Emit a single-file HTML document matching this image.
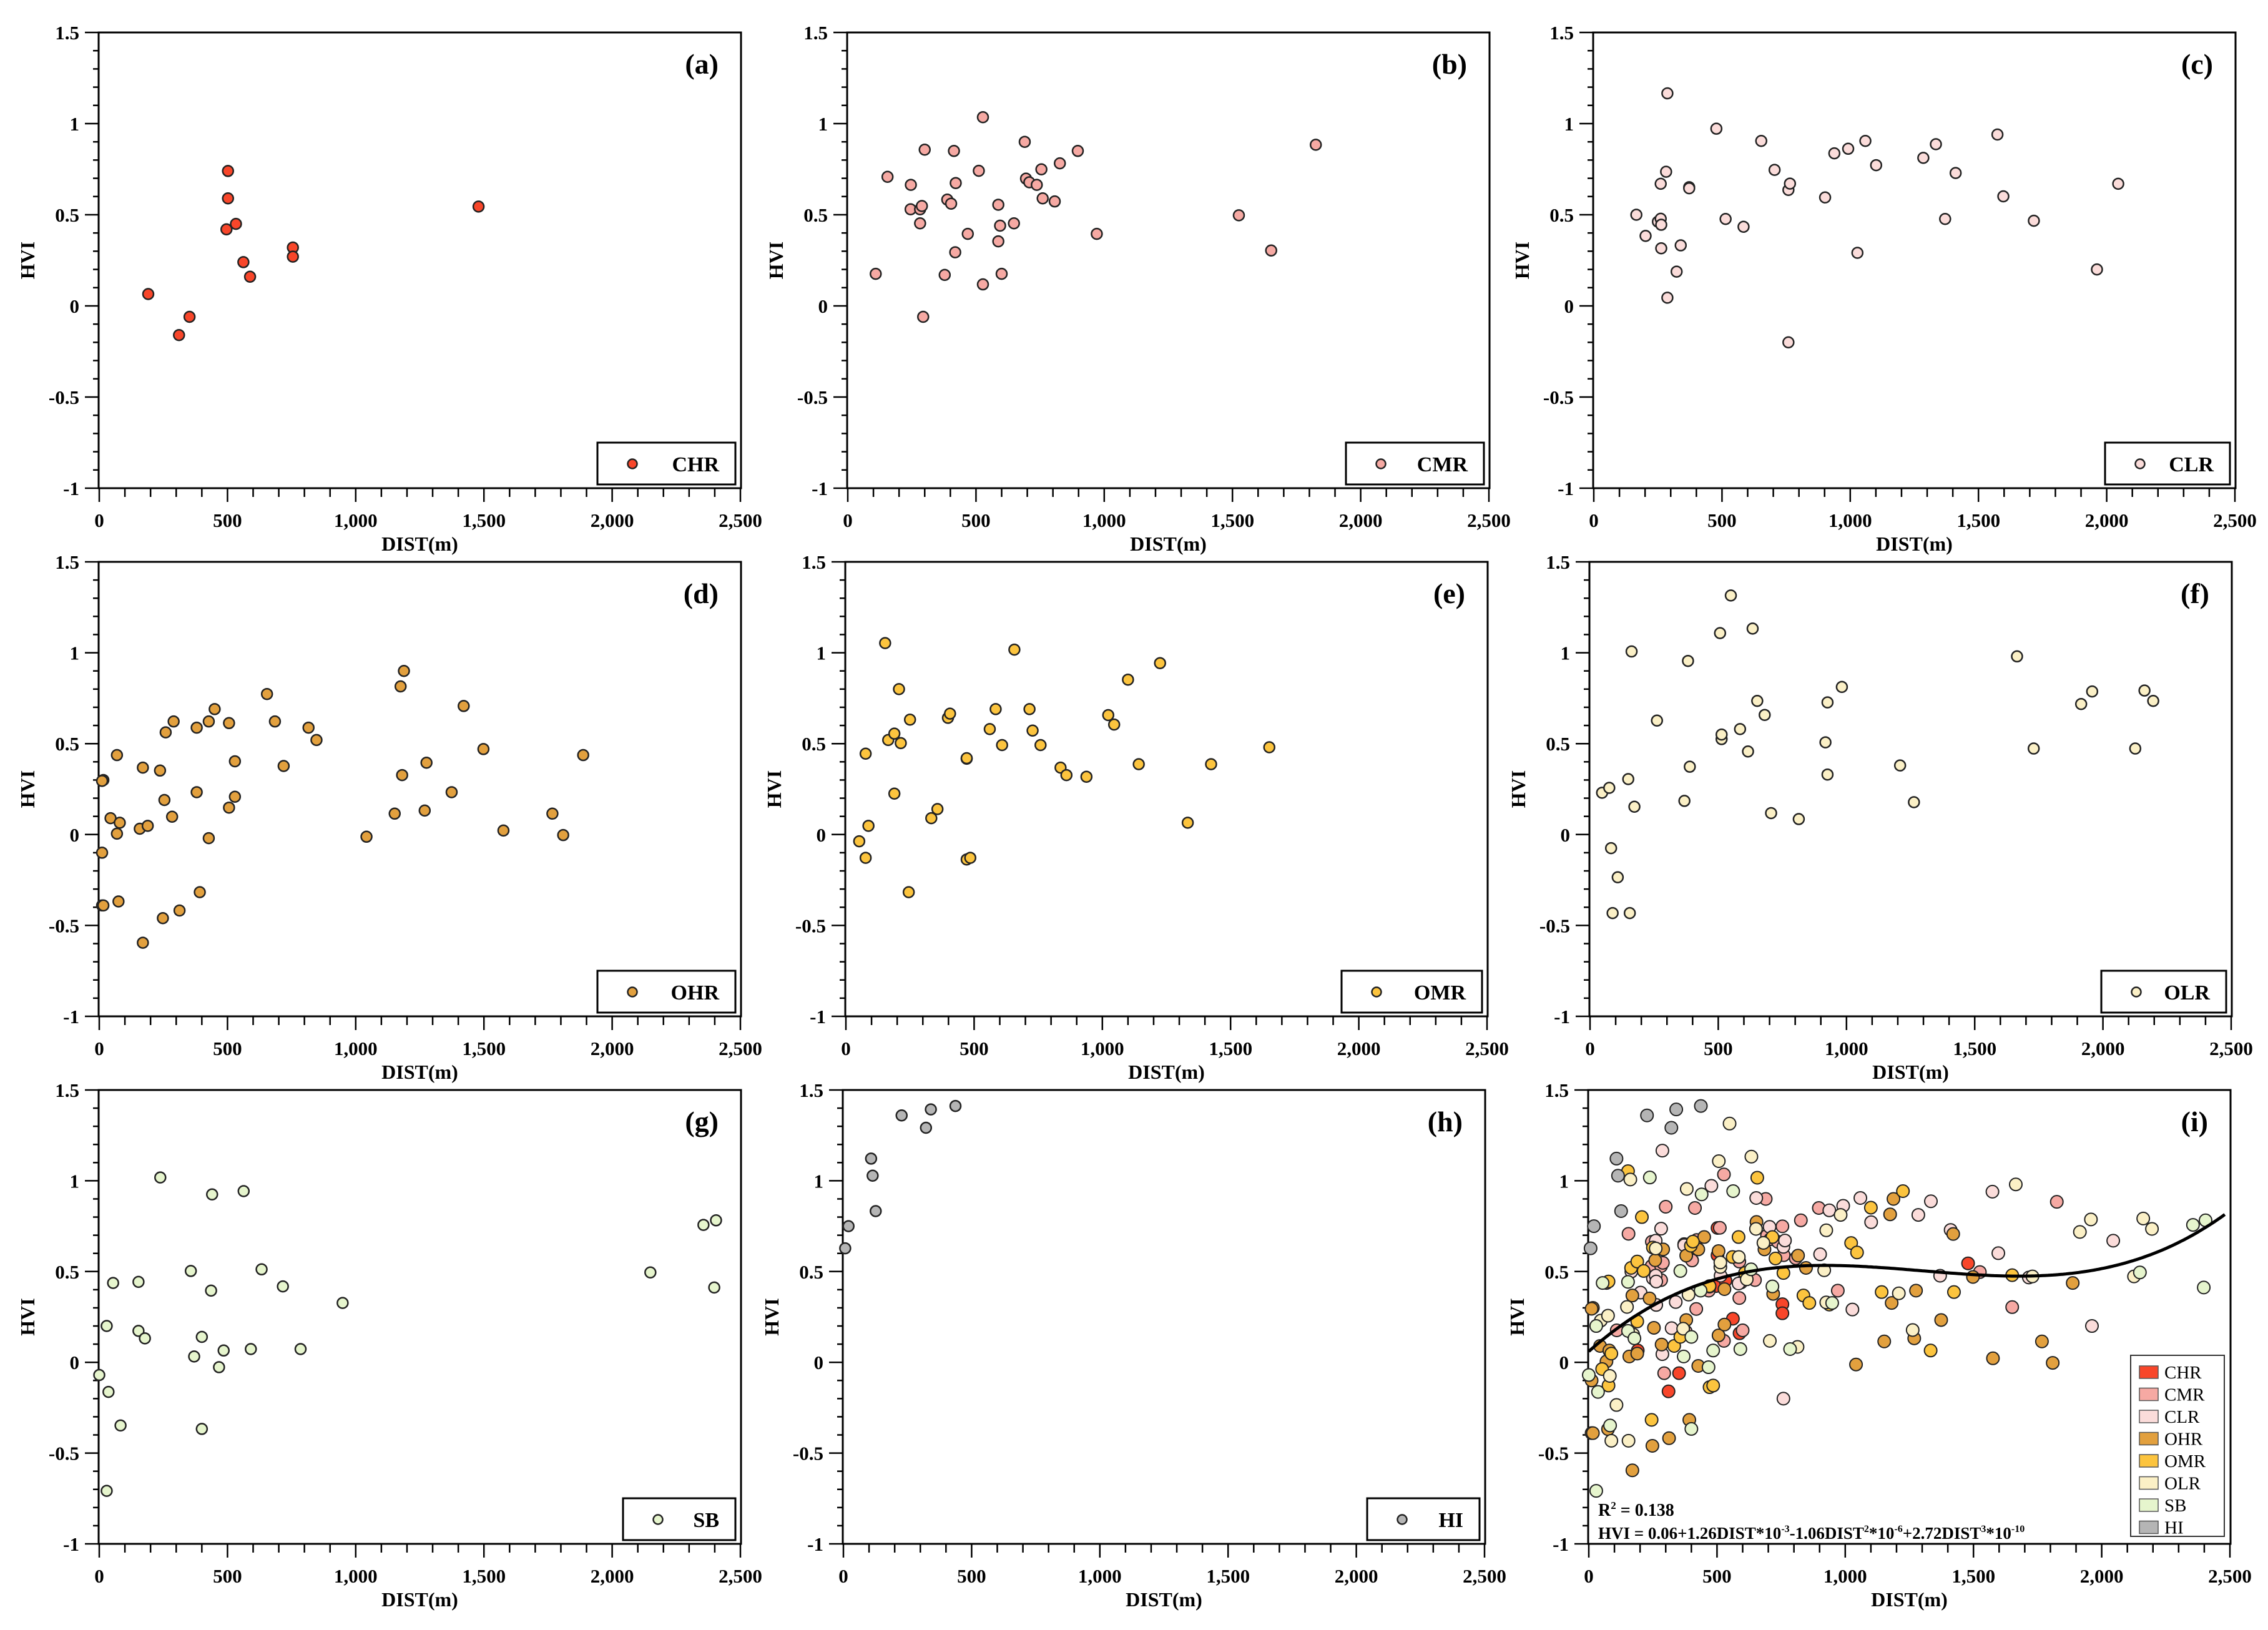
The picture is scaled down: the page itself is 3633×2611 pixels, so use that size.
<!DOCTYPE html>
<html><head><meta charset="utf-8">
<style>
html,body{margin:0;padding:0;background:#fff;}
svg{display:block;}
text{font-family:"Liberation Serif",serif;}
</style></head>
<body>
<svg id="fig" width="3633" height="2611" viewBox="0 0 3633 2611" xmlns="http://www.w3.org/2000/svg"></svg>
<script>
// ---- data (DIST in m, HVI) ----
const chrX=[191,311,352,502,502,496,533,562,588,755,755,1479];
const chrY=[0.065,-0.16,-0.06,0.74,0.59,0.42,0.45,0.24,0.16,0.32,0.27,0.545];
const cmrX=[109,155,246,245,282,289,282,300,294,378,388,403,414,421,419,468,511,527,527,587,594,587,600,648,690,695,708,737,755,760,807,827,897,971,1525,1651,1825];
const cmrY=[0.176,0.708,0.664,0.53,0.53,0.548,0.453,0.857,-0.06,0.17,0.583,0.561,0.85,0.674,0.294,0.395,0.741,1.035,0.118,0.555,0.44,0.354,0.176,0.453,0.9,0.698,0.678,0.664,0.749,0.59,0.573,0.782,0.85,0.395,0.497,0.304,0.884];
const clrX=[166,202,250,261,263,261,263,282,287,287,323,339,372,372,478,514,584,653,705,759,765,759,902,938,992,1028,1059,1101,1285,1334,1370,1411,1574,1597,1716,1962,2045];
const clrY=[0.50,0.384,0.462,0.478,0.445,0.67,0.316,0.736,1.166,0.045,0.188,0.332,0.651,0.645,0.972,0.477,0.434,0.905,0.746,0.636,0.671,-0.2,0.595,0.837,0.862,0.291,0.905,0.772,0.812,0.887,0.477,0.729,0.94,0.601,0.467,0.2,0.67];
const ohrX=[11,11,16,16,11,44,69,69,80,75,158,170,170,189,237,248,254,259,284,290,313,380,380,392,427,427,450,506,506,529,529,654,685,719,816,847,1042,1152,1175,1188,1181,1269,1276,1374,1421,1498,1576,1767,1809,1887];
const ohrY=[-0.10,-0.39,-0.39,0.30,0.295,0.09,0.437,0.005,0.065,-0.368,0.032,0.368,-0.595,0.048,0.352,-0.46,0.19,0.562,0.098,0.622,-0.418,0.588,0.233,-0.317,0.622,-0.02,0.69,0.613,0.148,0.403,0.208,0.773,0.622,0.377,0.588,0.52,-0.012,0.115,0.815,0.90,0.327,0.132,0.395,0.233,0.707,0.47,0.022,0.115,-0.003,0.437];
const omrX=[52,77,77,88,153,165,189,189,207,214,245,250,333,357,398,406,471,471,471,485,561,584,609,657,716,728,759,837,860,938,1023,1046,1100,1142,1225,1333,1424,1651];
const omrY=[-0.037,0.445,-0.128,0.048,1.053,0.52,0.555,0.225,0.80,0.503,-0.317,0.632,0.09,0.14,0.642,0.665,0.417,0.42,-0.137,-0.128,0.58,0.69,0.492,1.017,0.69,0.572,0.492,0.368,0.327,0.318,0.657,0.605,0.852,0.387,0.943,0.065,0.387,0.48];
const olrX=[47,75,82,108,88,155,149,162,173,261,368,382,389,507,513,513,549,585,616,634,652,681,706,814,918,926,926,982,1209,1263,1665,1730,1915,1958,2126,2162,2196];
const olrY=[0.23,0.257,-0.075,-0.235,-0.432,-0.432,0.305,1.007,0.153,0.627,0.185,0.955,0.373,1.108,0.525,0.55,1.315,0.58,0.457,1.133,0.735,0.658,0.118,0.085,0.507,0.727,0.33,0.812,0.38,0.178,0.98,0.473,0.718,0.787,0.473,0.792,0.735];
const sbX=[0,29,36,29,54,83,153,153,178,238,357,370,400,400,436,440,467,485,563,591,633,716,785,949,2149,2356,2405,2398];
const sbY=[-0.07,0.20,-0.163,-0.708,0.437,-0.348,0.443,0.173,0.132,1.018,0.503,0.032,0.14,-0.367,0.395,0.925,-0.027,0.065,0.943,0.073,0.512,0.418,0.073,0.327,0.495,0.757,0.782,0.412];
const hiX=[7,20,108,114,126,227,322,341,437];
const hiY=[0.628,0.75,1.122,1.028,0.833,1.36,1.292,1.393,1.412];
const seriesNames=["CHR","CMR","CLR","OHR","OMR","OLR","SB","HI"];
const seriesColors=["#f8462a","#f6a9a3","#fbdcda","#e2a03e","#fcc43e","#fbf0c6","#e6f5cd","#b5b5b5"];
const seriesX=[chrX,cmrX,clrX,ohrX,omrX,olrX,sbX,hiX];
const seriesY=[chrY,cmrY,clrY,ohrY,omrY,olrY,sbY,hiY];
const fitCoef=[0.06,1.26e-3,-1.06e-6,2.72e-10];
const xTicks=[0,500,1000,1500,2000,2500];
const xTickLabels=["0","500","1,000","1,500","2,000","2,500"];
const yTicks=[1.5,1,0.5,0,-0.5,-1];
const yTickLabels=["1.5","1","0.5","0","-0.5","-1"];

const NS="http://www.w3.org/2000/svg";
const svg=document.getElementById('fig');
function mk(tag,attrs,parent){const e=document.createElementNS(NS,tag);for(const k in attrs)e.setAttribute(k,attrs[k]);(parent||svg).appendChild(e);return e;}

const panels=[
 {id:"a",x0:159,top:52,bot:782,s:[0],legW:221},
 {id:"b",x0:1358,top:52,bot:782,s:[1],legW:221},
 {id:"c",x0:2553,top:52,bot:782,s:[2],legW:200},
 {id:"d",x0:159,top:900,bot:1628,s:[3],legW:221},
 {id:"e",x0:1355,top:900,bot:1628,s:[4],legW:225},
 {id:"f",x0:2547,top:900,bot:1628,s:[5],legW:200},
 {id:"g",x0:159,top:1746,bot:2473,s:[6],legW:180},
 {id:"h",x0:1351,top:1746,bot:2473,s:[7],legW:180},
 {id:"i",x0:2545,top:1746,bot:2473,s:[0,1,2,3,4,5,6,7],legW:0}
];
const W=1027;
panels.forEach(p=>{
  const g=mk('g',{});
  
  
  const xs=v=>p.x0+v/2500*W;
  const ys=v=>p.top+(1.5-v)/2.5*(p.bot-p.top);
  const fr=mk('rect',{x:p.x0-1,y:p.top,width:W+2,height:p.bot-p.top,fill:'none',stroke:'#000','stroke-width':3},g);
  
  
  // x ticks
  for(let v=0;v<=2500;v+=100){const maj=v%500===0;mk('line',{x1:xs(v),x2:xs(v),y1:p.bot,y2:p.bot+(maj?22:14),stroke:'#000','stroke-width':2.5},g);}
  xTicks.forEach((v,i)=>{const t=mk('text',{x:xs(v),y:p.bot+62,'text-anchor':'middle','font-size':31,'font-weight':'bold'},g);t.textContent=xTickLabels[i];
    });
  // y ticks
  for(let k=0;k<=25;k++){const v=1.5-k*0.1;const maj=k%5===0;mk('line',{x1:p.x0-(maj?23:10),x2:p.x0,y1:ys(v),y2:ys(v),stroke:'#000','stroke-width':2.5},g);}
  yTicks.forEach((v,i)=>{const t=mk('text',{x:p.x0-32,y:ys(v)+11,'text-anchor':'end','font-size':31,'font-weight':'bold'},g);t.textContent=yTickLabels[i];
    });
  const xt=mk('text',{x:p.x0+W/2,y:p.bot+100,'text-anchor':'middle','font-size':32,'font-weight':'bold'},g);xt.textContent='DIST(m)';
  
  const cy=(p.top+p.bot)/2;
  const yt=mk('text',{x:p.x0-115,y:cy,'text-anchor':'middle','font-size':32,'font-weight':'bold',transform:`rotate(-90 ${p.x0-115} ${cy})`,dy:11},g);yt.textContent='HVI';
  
  const lt=mk('text',{x:p.x0+W-35,y:p.top+66,'text-anchor':'end','font-size':46,'font-weight':'bold'},g);lt.textContent='('+p.id+')';
  
  const r=p.id==='i'?10:8.5;
  if(p.id==='i'){
    let d='';for(let v=0;v<=2480;v+=10){const h=fitCoef[0]+fitCoef[1]*v+fitCoef[2]*v*v+fitCoef[3]*v*v*v;d+=(v?'L':'M')+xs(v).toFixed(1)+' '+ys(h).toFixed(1);}
    // points first, then curve
    p.s.forEach(si=>{seriesX[si].forEach((xv,j)=>{const c=mk('circle',{cx:xs(xv),cy:ys(seriesY[si][j]),r:r,fill:seriesColors[si],stroke:'#222','stroke-width':2},g);
      });});
    const cur=mk('path',{d:d,fill:'none',stroke:'#000','stroke-width':5},g);
    
    const lb=mk('rect',{x:3413,y:2171,width:150,height:290,fill:'#fff',stroke:'#333','stroke-width':2},g);
    
    seriesNames.forEach((n,i)=>{const yy=2198+i*35.5;
      const sw=mk('rect',{x:3427,y:yy-10,width:30,height:20,fill:seriesColors[i],stroke:'#555','stroke-width':1.5},g);
      
      const t=mk('text',{x:3467,y:yy+10,'font-size':29},g);t.textContent=n;
      });
    const r2=mk('text',{x:2560,y:2428,'font-size':28,'font-weight':'bold'},g);
    r2.innerHTML='R<tspan font-size="17" dy="-11">2</tspan><tspan dy="11"> = 0.138</tspan>';
    
    const eq=mk('text',{x:2560,y:2465,'font-size':27,'font-weight':'bold'},g);
    eq.innerHTML='HVI = 0.06+1.26DIST*10<tspan font-size="16" dy="-11">-3</tspan><tspan dy="11">-1.06DIST</tspan><tspan font-size="16" dy="-11">2</tspan><tspan dy="11">*10</tspan><tspan font-size="16" dy="-11">-6</tspan><tspan dy="11">+2.72DIST</tspan><tspan font-size="16" dy="-11">3</tspan><tspan dy="11">*10</tspan><tspan font-size="16" dy="-11">-10</tspan>';
    
  } else {
    const si=p.s[0];
    seriesX[si].forEach((xv,j)=>{const c=mk('circle',{cx:xs(xv),cy:ys(seriesY[si][j]),r:r,fill:seriesColors[si],stroke:'#222','stroke-width':2.5},g);
      });
    const bx=p.x0+W-8-p.legW, by=p.bot-73;
    const lb=mk('rect',{x:bx,y:by,width:p.legW,height:67,fill:'#fff',stroke:'#000','stroke-width':3},g);
    
    const lm=mk('circle',{cx:bx+56,cy:by+34,r:7.5,fill:seriesColors[si],stroke:'#222','stroke-width':2.5},g);
    
    const t=mk('text',{x:bx+p.legW-26,y:by+46,'text-anchor':'end','font-size':34,'font-weight':'bold'},g);t.textContent=seriesNames[si];
    
  }
});
</script>
</body></html>
